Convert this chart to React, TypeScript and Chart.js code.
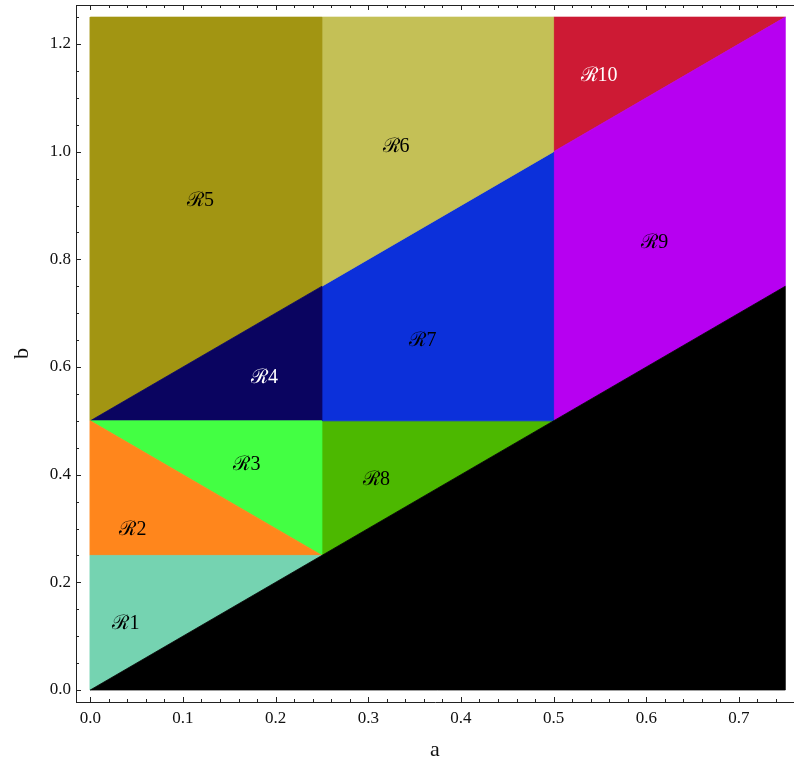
import React, { useEffect, useRef } from "react";
import { Chart, registerables } from "chart.js";

Chart.register(...registerables);

// Axis tick labels (major ticks)
const xTicks = [0, 0.1, 0.2, 0.3, 0.4, 0.5, 0.6, 0.7];
const yTicks = [0, 0.2, 0.4, 0.6, 0.8, 1.0, 1.2];

// Visible axis ranges
const xMin = -0.0154;
const xMax = 0.7594;
const yMin = -0.0223;
const yMax = 1.2725;

// Region polygons as [a, b] vertices
const regionBlack = [[0, 0], [0.75, 0], [0.75, 0.75]];
const regionR1 = [[0, 0], [0.25, 0.25], [0, 0.25]];
const regionR2 = [[0, 0.25], [0.25, 0.25], [0, 0.5]];
const regionR3 = [[0, 0.5], [0.25, 0.25], [0.25, 0.5]];
const regionR4 = [[0, 0.5], [0.25, 0.5], [0.25, 0.75]];
const regionR5 = [[0, 0.5], [0.25, 0.75], [0.25, 1.25], [0, 1.25]];
const regionR6 = [[0.25, 0.75], [0.5, 1.0], [0.5, 1.25], [0.25, 1.25]];
const regionR7 = [[0.25, 0.5], [0.5, 0.5], [0.5, 1.0], [0.25, 0.75]];
const regionR8 = [[0.25, 0.25], [0.5, 0.5], [0.25, 0.5]];
const regionR9 = [[0.5, 0.5], [0.75, 0.75], [0.75, 1.25], [0.5, 1.0]];
const regionR10 = [[0.5, 1.0], [0.75, 1.25], [0.5, 1.25]];

const regions = [regionBlack, regionR1, regionR2, regionR3, regionR4, regionR5, regionR6, regionR7, regionR8, regionR9, regionR10];
const regionColors = [
  "rgb(0,0,0)",
  "rgb(117,211,177)",
  "rgb(255,134,28)",
  "rgb(67,255,67)",
  "rgb(10,4,96)",
  "rgb(162,149,18)",
  "rgb(196,192,86)",
  "rgb(12,48,218)",
  "rgb(76,184,0)",
  "rgb(183,0,241)",
  "rgb(205,26,52)",
];

// Region labels
const labelTexts = ["ℛ1", "ℛ2", "ℛ3", "ℛ4", "ℛ5", "ℛ6", "ℛ7", "ℛ8", "ℛ9", "ℛ10"];
const labelA = [0.0385, 0.046, 0.169, 0.188, 0.119, 0.330, 0.359, 0.309, 0.609, 0.549];
const labelB = [0.1226, 0.297, 0.418, 0.58, 0.908, 1.01, 0.648, 0.39, 0.83, 1.141];
const labelColors = ["#000", "#000", "#000", "#fff", "#000", "#000", "#000", "#000", "#000", "#fff"];

const axisColor = "#222";
const tickFont = { family: '"Liberation Serif", "Times New Roman", serif', size: 17 };

const framePlugin = {
  id: "frameTicks",
  afterDatasetsDraw(chart: any) {
    const { ctx, scales } = chart;
    const xs = scales.x;
    const ys = scales.y;
    ctx.save();
    ctx.textAlign = "center";
    ctx.textBaseline = "middle";
    ctx.font = '20px "Liberation Serif", "DejaVu Serif", serif';
    for (let i = 0; i < labelTexts.length; i++) {
      ctx.fillStyle = labelColors[i];
      ctx.fillText(labelTexts[i], xs.getPixelForValue(labelA[i]), ys.getPixelForValue(labelB[i]));
    }
    ctx.restore();
  },
  afterDraw(chart: any) {
    const { ctx, chartArea, scales } = chart;
    const xs = scales.x;
    const ys = scales.y;
    ctx.save();
    ctx.strokeStyle = axisColor;
    ctx.lineWidth = 1;
    // top frame line
    ctx.beginPath();
    ctx.moveTo(chartArea.left, Math.round(chartArea.top) + 0.5);
    ctx.lineTo(chartArea.right, Math.round(chartArea.top) + 0.5);
    ctx.stroke();
    // x ticks (bottom and top), inward
    ctx.beginPath();
    for (let i = 0; i <= 37; i++) {
      const v = i * 0.02;
      const px = Math.round(xs.getPixelForValue(v)) + 0.5;
      const len = i % 5 === 0 ? 5 : 3;
      ctx.moveTo(px, chartArea.bottom);
      ctx.lineTo(px, chartArea.bottom - len);
      ctx.moveTo(px, chartArea.top);
      ctx.lineTo(px, chartArea.top + len);
    }
    // y ticks (left), inward
    for (let i = 0; i <= 25; i++) {
      const v = i * 0.05;
      const py = Math.round(ys.getPixelForValue(v)) + 0.5;
      const len = i % 4 === 0 ? 5 : 3;
      ctx.moveTo(chartArea.left, py);
      ctx.lineTo(chartArea.left + len, py);
    }
    ctx.stroke();
    ctx.restore();
  },
};

export default function App() {
  const ref = useRef<HTMLCanvasElement | null>(null);

  useEffect(() => {
    if (!ref.current) return;
    const datasets = regions.map((poly, i) => ({
      label: i === 0 ? "region0" : labelTexts[i - 1],
      data: [...poly, poly[0]].map(([a, b]) => ({ x: a, y: b })),
      showLine: true,
      fill: "shape",
      backgroundColor: regionColors[i],
      borderColor: regionColors[i],
      borderWidth: 0.8,
      pointRadius: 0,
      pointHoverRadius: 0,
      tension: 0,
    }));

    const chart = new Chart(ref.current, {
      type: "scatter",
      data: { datasets },
      options: {
        responsive: false,
        animation: false,
        events: [],
        layout: { padding: { left: 0, right: 0, top: 5, bottom: 0 } },
        plugins: { legend: { display: false }, tooltip: { enabled: false }, title: { display: false } },
        scales: {
          x: {
            type: "linear",
            min: xMin,
            max: xMax,
            afterBuildTicks: (s: any) => {
              s.ticks = xTicks.map((v) => ({ value: v }));
            },
            afterFit: (s: any) => {
              s.height = 59;
              s.paddingLeft = 0;
              s.paddingRight = 0;
            },
            grid: { display: false, drawTicks: false },
            border: { display: true, color: axisColor, width: 1 },
            ticks: {
              autoSkip: false,
              maxRotation: 0,
              padding: 6,
              color: "#111",
              font: tickFont,
              callback: (v: any) => Number(v).toFixed(1),
            },
            title: {
              display: true,
              text: "a",
              color: "#111",
              font: { family: '"Liberation Serif", serif', size: 22, lineHeight: 1 },
              padding: { top: 0, bottom: 0 },
            },
          },
          y: {
            type: "linear",
            min: yMin,
            max: yMax,
            afterBuildTicks: (s: any) => {
              s.ticks = yTicks.map((v) => ({ value: v }));
            },
            afterFit: (s: any) => {
              s.width = 76;
              s.paddingTop = 0;
              s.paddingBottom = 0;
            },
            grid: { display: false, drawTicks: false },
            border: { display: true, color: axisColor, width: 1 },
            ticks: {
              autoSkip: false,
              padding: 5,
              color: "#111",
              font: tickFont,
              callback: (v: any) => Number(v).toFixed(1),
            },
            title: {
              display: true,
              text: "b",
              color: "#111",
              font: { family: '"Liberation Serif", serif', size: 22, lineHeight: 1 },
              padding: { top: 11, bottom: 0 },
            },
          },
        },
      },
      plugins: [framePlugin],
    } as any);

    return () => chart.destroy();
  }, []);

  return (
    <div style={{ position: "absolute", left: 0, top: 0, width: 794, height: 761, overflow: "hidden" }}>
      <canvas ref={ref} width={794} height={761} style={{ display: "block" }} />
    </div>
  );
}
